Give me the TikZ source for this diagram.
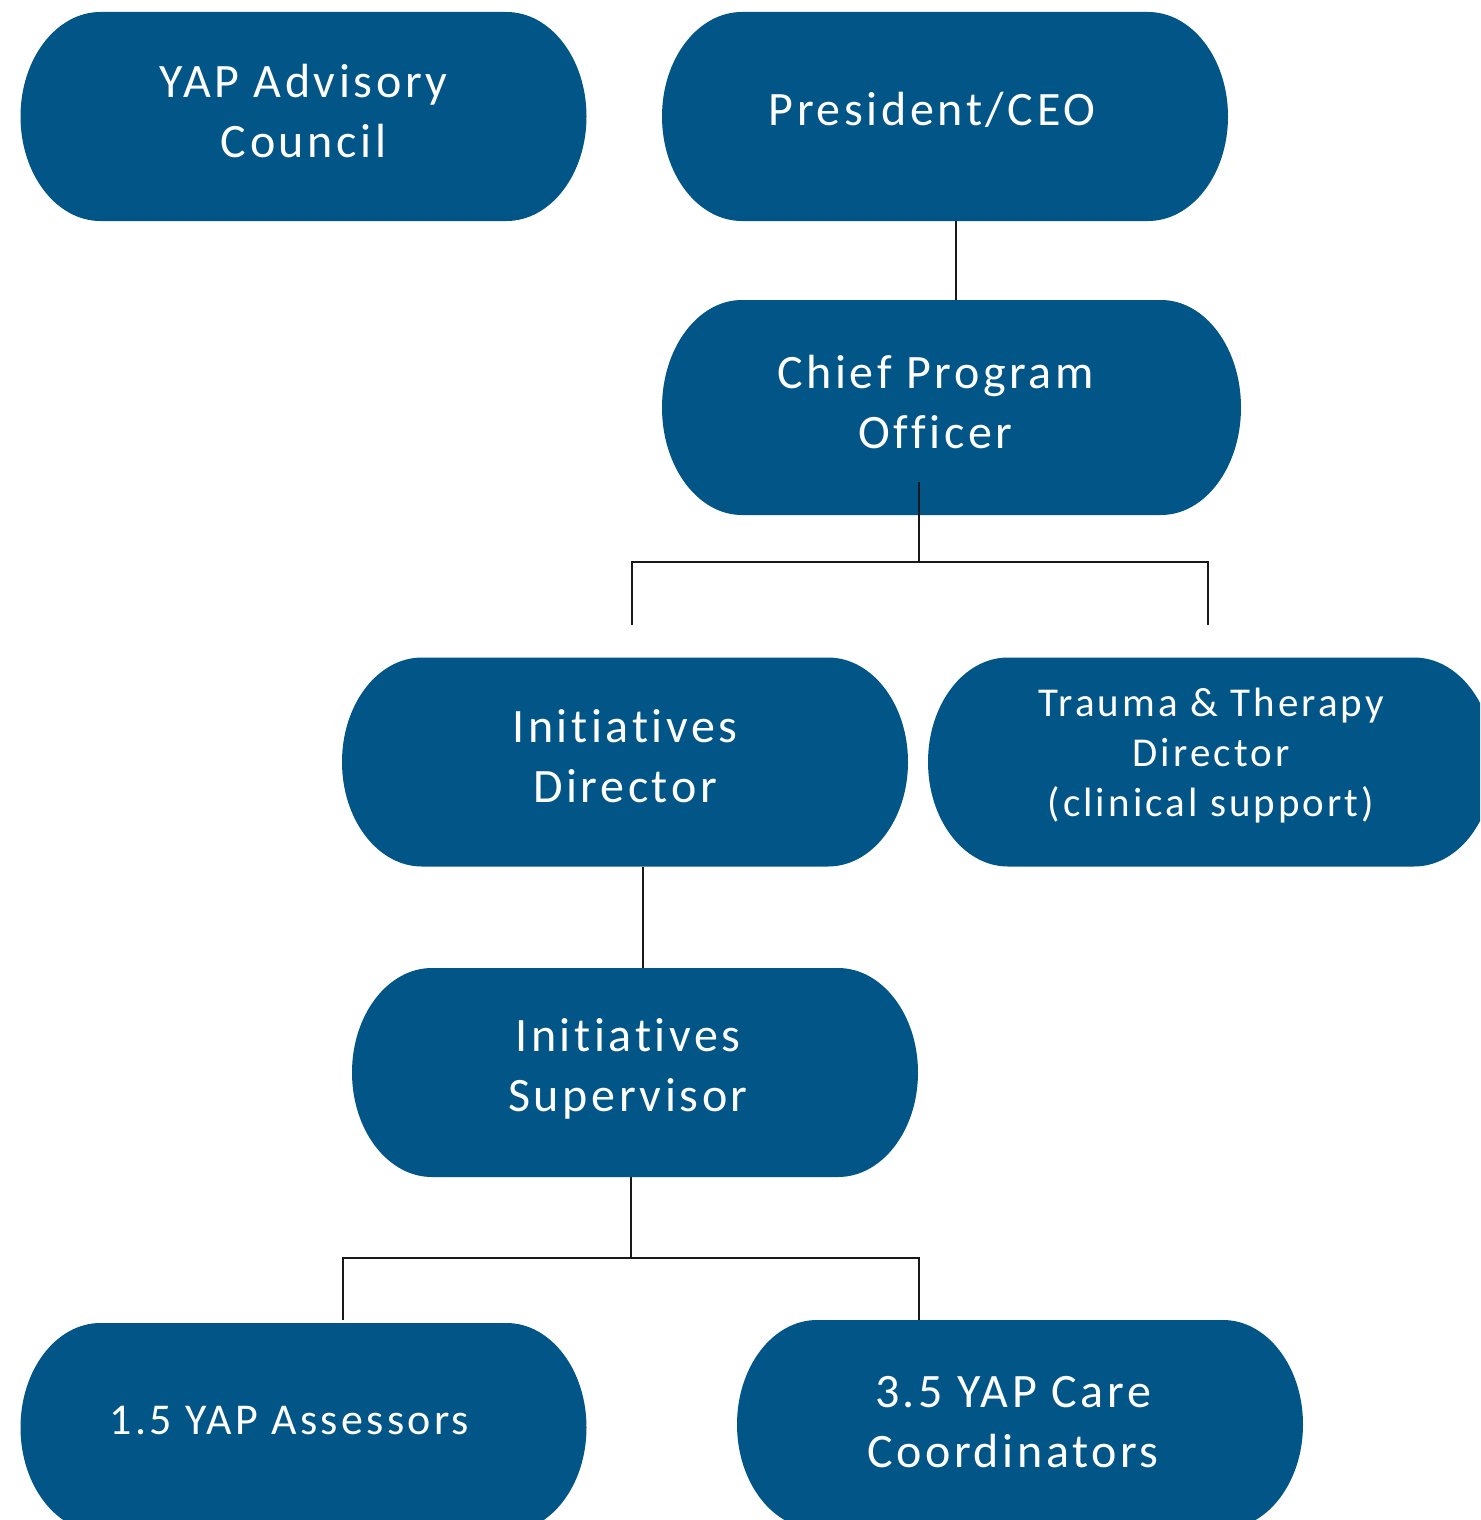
\documentclass[tikz,border=0pt]{standalone}
\usepackage{fontspec}
\setmainfont{Carlito}[Ligatures=NoCommon, LetterSpace=7.5]
\usetikzlibrary{calc}
\definecolor{yapblue}{RGB}{2,85,135}

\tikzset{
  pill/.style={text=white, align=center, inner sep=0pt,
    minimum width=283pt, minimum height=104.5pt, text depth=6pt,
    font=\fontsize{24}{30}\selectfont,
    path picture={
      \fill[yapblue] let \p1=(path picture bounding box.north west),
        \p2=(path picture bounding box.south east), \n1={(\y1-\y2)/2} in
        (\x1+40pt,\y1) -- (\x2-40pt,\y1)
        arc[start angle=90, end angle=-90, x radius=40pt, y radius=\n1]
        -- (\x1+40pt,\y2)
        arc[start angle=270, end angle=90, x radius=40pt, y radius=\n1] -- cycle;
    }},
  link/.style={draw=black!90, line width=1.2pt}
}

\begin{document}
\begin{tikzpicture}[x=0.5pt, y=-0.5pt]
\clip (0,0) rectangle (1480,1520);
%% boxes
\node[pill] (council) at (303.5,116.5) {YAP Advisory\\Council};
\node[pill, text depth=7.5pt] (ceo) at (945,116.5) {\kern-13pt President/CEO};
\node[pill, minimum width=289.5pt, minimum height=107.5pt] (cpo) at (951.5,407.5) {\kern-16pt Chief Program\\\kern-16pt Officer};
\node[pill] (idir) at (625,762) {Initiatives\\Director};
\node[pill, font=\fontsize{20.5}{25}\selectfont, text depth=10pt] (ttd) at (1211,762) {Trauma \& Therapy\\Director\\(clinical support)};
\node[pill, text depth=8pt] (isup) at (635,1072.5) {\kern-7pt Initiatives\\\kern-7pt Supervisor};
\node[pill, font=\fontsize{22}{28}\selectfont, text depth=7pt] (assess) at (303.5,1427.5) {\kern-14pt 1.5 YAP Assessors};
\node[pill, text depth=3pt] (coord) at (1020,1424.5) {\kern-7pt 3.5 YAP Care\\\kern-7pt Coordinators};
%% lines
\coordinate (bus1) at (919,562);
\coordinate (bus2) at (631,1258);
\draw[link] ([shift={(11,0)}]ceo.south) -- ([shift={(4.5,0)}]cpo.north);
\draw[link] ([shift={(-32.5,-33)}]cpo.south) -- (bus1);
\draw[link] ([shift={(7,-32)}]idir.north) |- (bus1) -| ([shift={(-3,-32)}]ttd.north);
\draw[link] ([shift={(18,0)}]idir.south) -- ([shift={(8,0)}]isup.north);
\draw[link] (isup.south -| bus2) -- (bus2);
\draw[link] ([shift={(39.5,-3)}]assess.north) |- (bus2) -| ([shift={(-101,0)}]coord.north);
\end{tikzpicture}
\end{document}
